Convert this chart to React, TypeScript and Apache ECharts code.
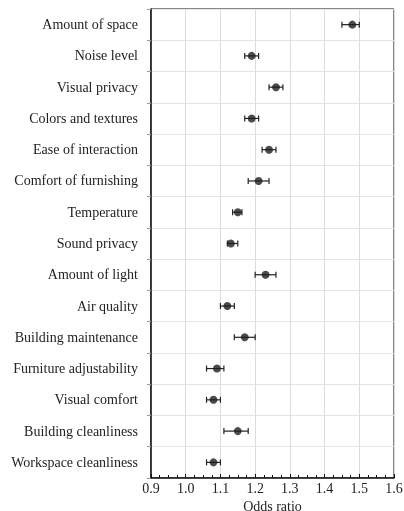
import React, { useEffect, useRef } from "react";
import * as echarts from "echarts";

const categories = [
  "Amount of space",
  "Noise level",
  "Visual privacy",
  "Colors and textures",
  "Ease of interaction",
  "Comfort of furnishing",
  "Temperature",
  "Sound privacy",
  "Amount of light",
  "Air quality",
  "Building maintenance",
  "Furniture adjustability",
  "Visual comfort",
  "Building cleanliness",
  "Workspace cleanliness",
];
const oddsRatio = [1.48, 1.19, 1.26, 1.19, 1.24, 1.21, 1.15, 1.13, 1.23, 1.12, 1.17, 1.09, 1.08, 1.15, 1.08];
const ciLow = [1.45, 1.17, 1.24, 1.17, 1.22, 1.18, 1.135, 1.12, 1.2, 1.1, 1.14, 1.06, 1.06, 1.11, 1.06];
const ciHigh = [1.5, 1.21, 1.28, 1.21, 1.26, 1.24, 1.162, 1.15, 1.26, 1.14, 1.2, 1.11, 1.1, 1.18, 1.1];
const xTicks = { min: 0.9, max: 1.6, interval: 0.1 };

export default function App() {
  const ref = useRef<HTMLDivElement>(null);
  useEffect(() => {
    if (!ref.current) return;
    const chart = echarts.init(ref.current, null, { renderer: "svg" });
    const font = "'Liberation Serif', serif";
    chart.setOption({
      animation: false,
      textStyle: { fontFamily: font },
      grid: {
        left: 151,
        right: 10,
        top: 9,
        bottom: 33,
        outerBoundsMode: "none",
        containLabel: false,
        show: true,
        borderColor: "#111",
        borderWidth: 1,
        backgroundColor: "transparent",
      },
      xAxis: {
        type: "value",
        min: xTicks.min,
        max: xTicks.max,
        interval: xTicks.interval,
        name: "Odds ratio",
        nameLocation: "middle",
        nameGap: 13,
        nameTextStyle: { fontFamily: font, fontSize: 14, lineHeight: 14, color: "#222", verticalAlign: "top" },
        axisLine: { show: true, lineStyle: { color: "#111", width: 1.5 } },
        axisTick: { show: true, inside: true, length: 4, lineStyle: { color: "#111", width: 1 } },
        minorTick: { show: true, splitNumber: 4, length: 3, lineStyle: { color: "#111", width: 1 } },
        axisLabel: {
          fontFamily: font,
          fontSize: 14,
          color: "#222",
          margin: 3,
          formatter: (v: number) => v.toFixed(1),
        },
        splitLine: { show: true, lineStyle: { color: "#dcdcdc", width: 1 } },
      },
      yAxis: {
        type: "category",
        data: categories,
        inverse: true,
        boundaryGap: true,
        axisLine: { show: true, lineStyle: { color: "#111", width: 1.5 } },
        axisTick: { show: true, length: 4, lineStyle: { color: "#999", width: 1 } },
        axisLabel: { fontFamily: font, fontSize: 14, color: "#222", margin: 13 },
        splitLine: { show: true, lineStyle: { color: "#e4e4e4", width: 1 } },
      },
      series: [
        {
          type: "custom",
          data: categories.map((_, i) => [ciLow[i], ciHigh[i], i]),
          encode: { x: [0, 1], y: 2 },
          renderItem: (params: any, api: any) => {
            const lo = api.coord([api.value(0), api.value(2)]);
            const hi = api.coord([api.value(1), api.value(2)]);
            const cap = 3;
            const style = { stroke: "#222", lineWidth: 1.2 };
            return {
              type: "group",
              children: [
                { type: "line", shape: { x1: lo[0], y1: lo[1], x2: hi[0], y2: hi[1] }, style },
                { type: "line", shape: { x1: lo[0], y1: lo[1] - cap, x2: lo[0], y2: lo[1] + cap }, style },
                { type: "line", shape: { x1: hi[0], y1: hi[1] - cap, x2: hi[0], y2: hi[1] + cap }, style },
              ],
            };
          },
          z: 3,
        },
        {
          type: "scatter",
          data: categories.map((_, i) => [oddsRatio[i], i]),
          symbol: "circle",
          symbolSize: 8,
          itemStyle: { color: "#1e1e1e" },
          z: 4,
        },
      ],
    });
    return () => chart.dispose();
  }, []);
  return (
    <div
      ref={ref}
      style={{ position: "fixed", left: 0, top: 0, width: 404, height: 511 }}
    />
  );
}
